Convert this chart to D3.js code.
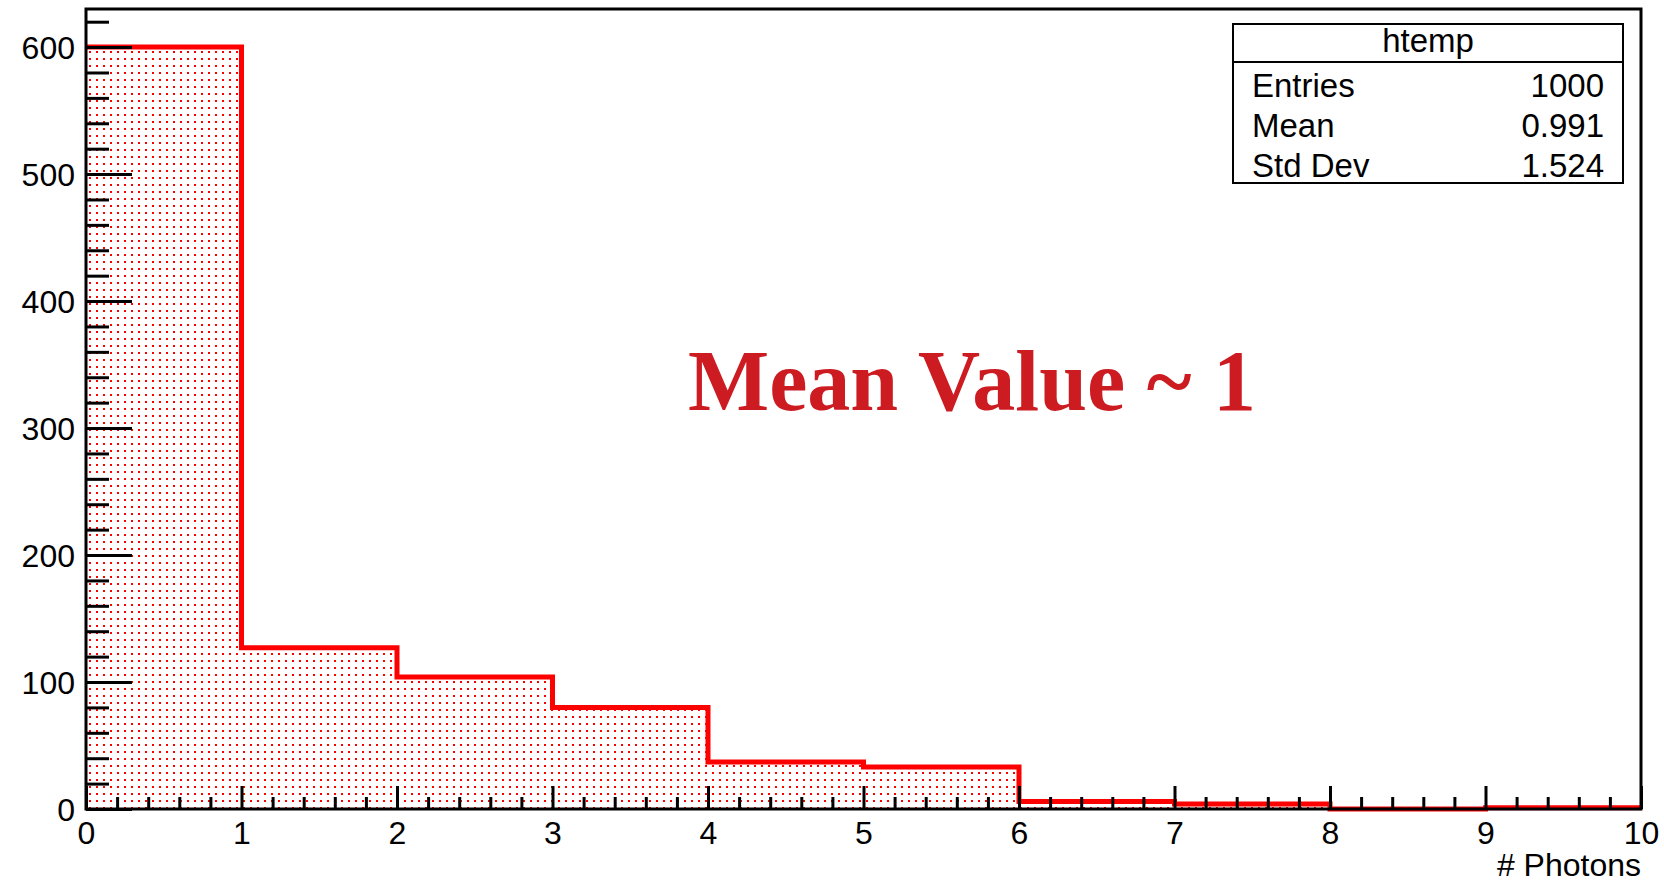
<!DOCTYPE html>
<html>
<head>
<meta charset="utf-8">
<script src="https://cdn.jsdelivr.net/npm/d3@7"></script>
<style>
  html, body { margin: 0; padding: 0; background: #fff; }
  svg { display: block; }
</style>
</head>
<body>
<svg id="chart" width="1664" height="884"></svg>
<script>
// Histogram of photon counts: lower edge of each unit-wide bin and its entries
const binLower = [0, 1, 2, 3, 4, 5, 6, 7, 8, 9];
const binCounts = [600, 127, 104, 80, 37, 33, 6, 4, 0, 1];
const xDomain = [0, 10];
const yDomain = [0, 630];
const xMajorTicks = [0, 1, 2, 3, 4, 5, 6, 7, 8, 9, 10];
const yMajorTicks = [0, 100, 200, 300, 400, 500, 600];
const xTitle = "# Photons";
const statsTitle = "htemp";
const statNames = ["Entries", "Mean", "Std Dev"];
const statValues = ["1000", "0.991", "1.524"];
const annotation = "Mean Value ~ 1";

const SANS = "'Liberation Sans', Arial, Helvetica, sans-serif";
const SERIF = "'Liberation Serif', 'Times New Roman', Times, serif";

const svg = d3.select("#chart");
const frame = { left: 86, right: 1641, top: 9, bottom: 809 };

const x = d3.scaleLinear().domain(xDomain).range([frame.left, frame.right]);
const y = d3.scaleLinear().domain(yDomain).range([frame.bottom, frame.top]);

// dotted fill pattern
const defs = svg.append("defs");
const pat = defs.append("pattern")
  .attr("id", "dots")
  .attr("patternUnits", "userSpaceOnUse")
  .attr("width", 7).attr("height", 7)
  .attr("x", frame.left + 3).attr("y", frame.bottom - 2);
pat.append("rect")
  .attr("x", 0).attr("y", 0).attr("width", 2).attr("height", 2)
  .attr("fill", "#ff0000")
  .attr("shape-rendering", "crispEdges");

// step points: each bin starts at its lower edge, the last one closes at the upper limit
const stepPts = binLower.map((b, i) => [b, binCounts[i]]);
stepPts.push([xDomain[1], binCounts[binCounts.length - 1]]);

const area = d3.area()
  .x(d => x(d[0]))
  .y0(y(0))
  .y1(d => y(d[1]))
  .curve(d3.curveStepAfter);

const line = d3.line()
  .x(d => x(d[0]))
  .y(d => y(d[1]))
  .curve(d3.curveStepAfter);

svg.append("path")
  .attr("d", area(stepPts))
  .attr("fill", "url(#dots)");

svg.append("path")
  .attr("d", line(stepPts))
  .attr("fill", "none")
  .attr("stroke", "#ff0000")
  .attr("stroke-width", 5)
  .attr("stroke-linejoin", "miter");

// axes
const yMinor = d3.range(0, 621, 20).filter(v => v % 100 !== 0);
const xMinor = d3.range(0, 10.001, 0.2).map(v => +v.toFixed(1)).filter(v => Math.abs(v - Math.round(v)) > 1e-6);

function styleAxis(g) {
  g.select(".domain").remove();
  g.selectAll(".tick line").attr("stroke", "#000").attr("stroke-width", 3);
  g.selectAll(".tick text")
    .style("font-family", SANS)
    .style("font-size", "32px")
    .style("fill", "#000");
}

svg.append("g")
  .attr("transform", `translate(${frame.left},0)`)
  .call(d3.axisLeft(y).tickValues(yMinor).tickSizeInner(-23).tickSizeOuter(0).tickFormat(""))
  .call(styleAxis);

svg.append("g")
  .attr("transform", `translate(${frame.left},0)`)
  .call(d3.axisLeft(y).tickValues(yMajorTicks).tickSizeInner(-46).tickSizeOuter(0).tickPadding(11).tickFormat(d3.format("d")))
  .call(styleAxis)
  .call(g => g.selectAll(".tick text").attr("dy", "0.36em"));

svg.append("g")
  .attr("transform", `translate(0,${frame.bottom})`)
  .call(d3.axisBottom(x).tickValues(xMinor).tickSizeInner(-12).tickSizeOuter(0).tickFormat(""))
  .call(styleAxis);

svg.append("g")
  .attr("transform", `translate(0,${frame.bottom})`)
  .call(d3.axisBottom(x).tickValues(xMajorTicks).tickSizeInner(-23).tickSizeOuter(0).tickPadding(12).tickFormat(d3.format("d")))
  .call(styleAxis);

// frame
svg.append("rect")
  .attr("x", frame.left).attr("y", frame.top)
  .attr("width", frame.right - frame.left).attr("height", frame.bottom - frame.top)
  .attr("fill", "none").attr("stroke", "#000").attr("stroke-width", 3);

// x axis title
svg.append("text")
  .attr("x", frame.right).attr("y", 876)
  .attr("text-anchor", "end")
  .style("font-family", SANS).style("font-size", "32px").style("fill", "#000")
  .text(xTitle);

// statistics box
const box = { left: 1233, right: 1623, top: 24, headBottom: 62, bottom: 183 };
const sb = svg.append("g");
sb.append("rect")
  .attr("x", box.left).attr("y", box.top)
  .attr("width", box.right - box.left).attr("height", box.bottom - box.top)
  .attr("fill", "#fff").attr("stroke", "#000").attr("stroke-width", 2);
sb.append("line")
  .attr("x1", box.left).attr("x2", box.right)
  .attr("y1", box.headBottom).attr("y2", box.headBottom)
  .attr("stroke", "#000").attr("stroke-width", 2);
sb.append("text")
  .attr("x", (box.left + box.right) / 2).attr("y", 52)
  .attr("text-anchor", "middle")
  .style("font-family", SANS).style("font-size", "33px").style("fill", "#000")
  .text(statsTitle);
statNames.forEach((name, i) => {
  const by = 97 + i * 40;
  sb.append("text").attr("x", box.left + 19).attr("y", by)
    .style("font-family", SANS).style("font-size", "33px").style("fill", "#000")
    .text(name);
  sb.append("text").attr("x", box.right - 19).attr("y", by).attr("text-anchor", "end")
    .style("font-family", SANS).style("font-size", "33px").style("fill", "#000")
    .text(statValues[i]);
});

// annotation
svg.append("text")
  .attr("x", 688).attr("y", 410)
  .style("font-family", SERIF)
  .style("font-weight", "bold")
  .style("font-size", "86px")
  .style("fill", "#cd1b22")
  .text(annotation);
</script>
</body>
</html>
